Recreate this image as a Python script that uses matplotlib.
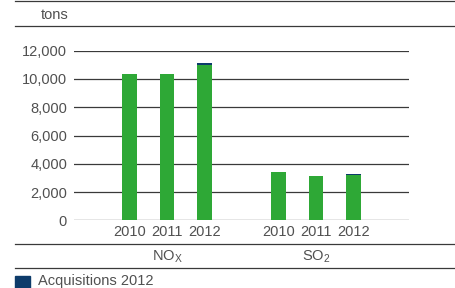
import matplotlib
matplotlib.use("Agg")
import matplotlib.pyplot as plt
from matplotlib.lines import Line2D
from matplotlib.patches import Rectangle
from matplotlib.transforms import blended_transform_factory

plt.rcParams['font.family'] = ['Liberation Sans', 'DejaVu Sans']
plt.rcParams['mathtext.fontset'] = 'custom'
plt.rcParams['mathtext.rm'] = 'Liberation Sans'
plt.rcParams['mathtext.it'] = 'Liberation Sans'

groups = [r"NO$_\mathrm{X}$", r"SO$_\mathrm{2}$"]
years = ["2010", "2011", "2012"]
base = [10350, 10350, 10970, 3400, 3130, 3200]
acquisitions = [0, 0, 150, 0, 0, 70]
positions = [0, 1, 2, 4, 5, 6]
y_ticks = [0, 2000, 4000, 6000, 8000, 10000, 12000]

GREEN = "#2ea836"
NAVY = "#0d3b6a"
TEXT = "#505050"
LINE = "#3a3a3a"
FS = 10.5

W, H = 455, 288
fig = plt.figure(figsize=(W / 100, H / 100), dpi=100)


def fx(px):
    return px / W


def fy(py):
    return 1 - py / H


ax = fig.add_axes([fx(74), fy(220.3), fx(409) - fx(74), fy(50.7) - fy(220.3)])
ax.bar(positions, base, width=0.4, color=GREEN, zorder=3)
ax.bar(positions, acquisitions, width=0.4, bottom=base, color=NAVY, zorder=3)

ax.set_xlim(-1.5, 7.5)
ax.set_ylim(0, 12000)
ax.set_yticks(y_ticks)
ax.set_yticklabels([f"{v:,}" for v in y_ticks])
ax.set_xticks(positions)
ax.set_xticklabels(years * 2)
ax.tick_params(length=0, labelsize=FS, labelcolor=TEXT)
ax.tick_params(axis='y', pad=5)
ax.tick_params(axis='x', pad=3.5)
ax.grid(axis='y', color=LINE, linewidth=0.9, zorder=0)
for s in ax.spines.values():
    s.set_visible(False)

# group labels below the years
trans = blended_transform_factory(ax.transData, fig.transFigure)
ax.text(1, fy(257), groups[0], transform=trans, ha='center', va='center',
        fontsize=FS, color=TEXT)
ax.text(5, fy(257), groups[1], transform=trans, ha='center', va='center',
        fontsize=FS, color=TEXT)

# header / separator rules
for y in [1, 26, 244, 268]:
    fig.add_artist(Line2D([fx(15), 1], [fy(y), fy(y)], color=LINE,
                          linewidth=0.9, transform=fig.transFigure))

fig.text(fx(55), fy(15), "tons", ha='center', va='center', fontsize=FS, color=TEXT)

# legend
fig.add_artist(Rectangle((fx(15), fy(292)), fx(15), fy(276) - fy(292),
                         color=NAVY, transform=fig.transFigure))
fig.text(fx(38), fy(284.5), "Acquisitions 2012", ha='left', va='baseline',
         fontsize=FS, color=TEXT)

fig.savefig("out.png", dpi=100)
